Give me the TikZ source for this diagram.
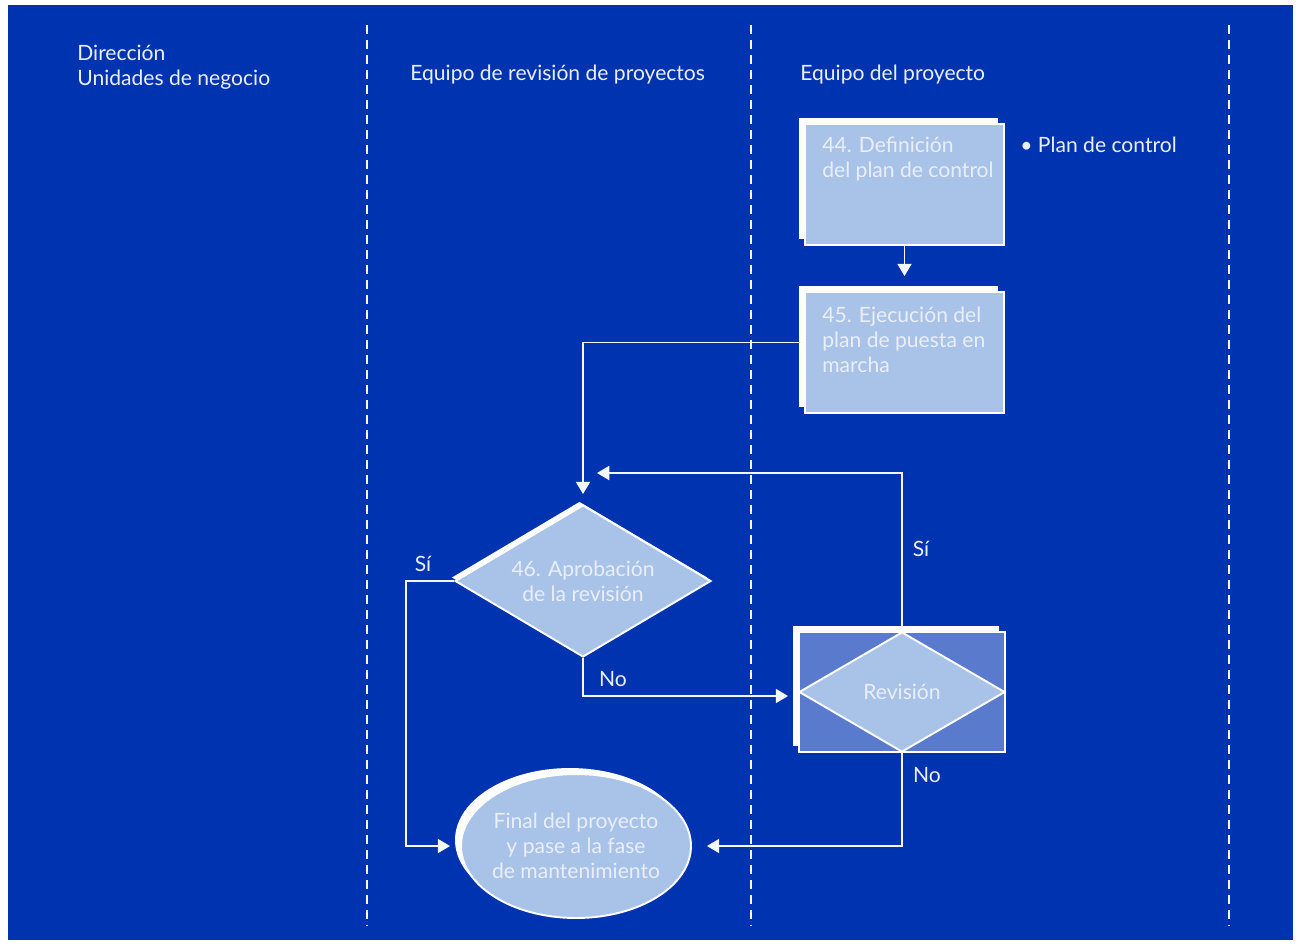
\documentclass[tikz,border=0pt]{standalone}
\usepackage{fontspec}
\setmainfont{Lato}
\usetikzlibrary{arrows.meta,shapes.geometric,shadows,positioning}

\definecolor{fondo}{HTML}{0033B0}
\definecolor{caja}{HTML}{A9C3E8}
\definecolor{cajaosc}{HTML}{5A7BCD}
\definecolor{linea}{HTML}{F4F7FC}
\definecolor{texto}{HTML}{E9EEF9}

\tikzset{
  sombra/.style={general shadow={shadow xshift=-0.12cm,shadow yshift=0.12cm,fill=white}},
  sombrita/.style={general shadow={shadow xshift=-0.07cm,shadow yshift=0.07cm,fill=white}},
  cajapaso/.style={draw=white,line width=1.1pt,fill=caja,sombra,inner sep=0pt},
  decision/.style={diamond,draw=white,line width=1.1pt,fill=caja,inner sep=0pt,align=center,
    text=texto,font=\fontsize{12}{14.2}\selectfont},
  textocaja/.style={text=texto,align=left,inner sep=0pt,font=\fontsize{12}{14.2}\selectfont},
  cabecera/.style={text=texto,align=left,inner sep=0pt,font=\fontsize{12}{14.2}\selectfont},
  etiqueta/.style={text=texto,inner sep=0pt,font=\fontsize{12}{14.2}\selectfont},
  flecha/.style={draw=linea,line width=1.1pt,-{Triangle[length=7pt,width=8pt]}},
  carril/.style={draw=linea,line width=1.6pt,dash pattern=on 0.18cm off 0.12cm}
}

\begin{document}
\begin{tikzpicture}[x=0.02cm,y=-0.02cm]
\useasboundingbox (0,0) rectangle (1301,944);
\fill[fondo] (8,5) rectangle (1293,940);

% carriles
\foreach \x in {367,751,1229}
  \draw[carril] (\x,25) -- (\x,925);

\node[cabecera,anchor=west] (direccion) at (77,67.5) {Dirección\\Unidades de negocio};
\node[cabecera,anchor=west] (revisores) at (410,75) {Equipo de revisión de proyectos};
\node[cabecera,anchor=west] (equipo) at (800,75) {Equipo del proyecto};

% pasos
\node[cajapaso,minimum width=3.98cm,minimum height=2.42cm] (definicion) at (904.5,184.5) {};
\node[textocaja,anchor=west] (tdefinicion) at (822,159) {44. Definición\\del plan de control};
\node[cabecera,anchor=west] (plan) at (1020,145) {• Plan de control};

\node[cajapaso,minimum width=3.98cm,minimum height=2.42cm] (ejecucion) at (904.5,352.5) {};
\node[textocaja,anchor=west] (tejecucion) at (822,340) {45. Ejecución del\\plan de puesta en\\marcha};

\node[decision,sombrita,aspect=1.68,minimum width=5.12cm,minimum height=3.04cm] (aprobacion)
  at (583,581) {46. Aprobación\\de la revisión};

\node[cajapaso,fill=cajaosc,minimum width=4.12cm,minimum height=2.4cm] (revcaja) at (902,692) {};
\node[decision,aspect=1.72,minimum width=4.12cm,minimum height=2.4cm] (revision) at (902,692)
  {Revisión};

\node[ellipse,draw=white,line width=1.1pt,fill=caja,sombra,minimum width=4.6cm,minimum height=2.88cm,
  inner xsep=-6pt,inner ysep=0pt,align=center,text=texto,font=\fontsize{12}{14.2}\selectfont] (final)
  at (576,846) {Final del proyecto\\y pase a la fase\\de mantenimiento};

% conexiones
\draw[flecha,shorten >=0.3cm] (definicion) -- (ejecucion);
\draw[flecha,shorten >=0.2cm] ([yshift=0.2cm]ejecucion.west) -| (aprobacion.north);
\coordinate (regreso) at (597,473);
\draw[flecha] (revcaja.north) |- (regreso);
\draw[flecha,shorten >=0.2cm] (aprobacion.south) |- ([yshift=-0.08cm]revision.west);
\draw[flecha,shorten >=0.2cm] (aprobacion.west) -- ++(-48,0) |- (final.west);
\draw[flecha,shorten >=0.3cm] (revcaja.south) |- (final.east);

\node[etiqueta] (si1) at (921,549) {Sí};
\node[etiqueta] (no1) at (613,679) {No};
\node[etiqueta] (si2) at (423,564) {Sí};
\node[etiqueta] (no2) at (927,775) {No};
\end{tikzpicture}
\end{document}
